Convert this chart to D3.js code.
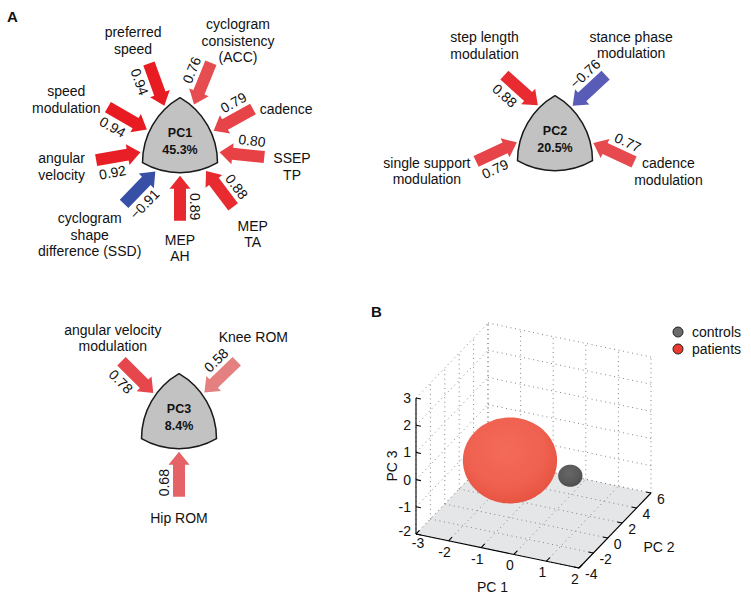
<!DOCTYPE html>
<html>
<head>
<meta charset="utf-8">
<script src="https://cdn.jsdelivr.net/npm/d3@7"></script>
<style>
  body { margin: 0; background: #fff; }
  text { font-family: "Liberation Sans", Arial, Helvetica, sans-serif; fill: #111; }
</style>
</head>
<body>
<svg id="fig" width="751" height="604"></svg>
<script>
// ---------- panel A : loadings of each component ----------
const pc1Labels = ["preferred\nspeed", "cyclogram\nconsistency\n(ACC)", "cadence", "SSEP\nTP", "MEP\nTA",
                   "MEP\nAH", "cyclogram\nshape\ndifference (SSD)", "angular\nvelocity", "speed\nmodulation"];
const pc1Loadings = [0.94, 0.76, 0.79, 0.80, 0.88, 0.89, -0.91, 0.92, 0.94];

const pc2Labels = ["step length\nmodulation", "stance phase\nmodulation", "cadence\nmodulation", "single support\nmodulation"];
const pc2Loadings = [0.88, -0.76, 0.77, 0.79];

const pc3Labels = ["angular velocity\nmodulation", "Knee ROM", "Hip ROM"];
const pc3Loadings = [0.78, 0.58, 0.68];

const componentNames = ["PC1", "PC2", "PC3"];
const explained = ["45.3%", "20.5%", "8.4%"];

// ---------- panel B : group ellipsoids in PC space ----------
const groups = ["controls", "patients"];
const groupCenters = [[0.85, 0, 0], [-1, 0, 0.1]];          // PC1, PC2, PC3
const groupRadii = [[0.34, 0.69, 0.35], [1.32, 2.67, 1.36]];  // semi-axes along PC1, PC2, PC3
const pc1Ticks = [-3, -2, -1, 0, 1, 2];
const pc2Ticks = [-4, -2, 0, 2, 4, 6];
const pc3Ticks = [-2, -1, 0, 1, 2, 3];

// ---------- layout (not data) ----------
// per arrow: [aim angle of tip, arrow direction, label angle, label distance] (compass degrees)
const glyphLayout = [
  { cx: 180, cy: 141, labels: pc1Labels, values: pc1Loadings, arrows: [
    [-24, -20, -25, 111], [21, 22, 30, 116], [73, 61, 73, 111], [106, 96, 103, 115], [139, 143, 142, 118],
    [180, 180, 180, 107], [219, 224, 224, 130], [254, 260, 258, 121], [289, 300, 290, 121]] },
  { cx: 555, cy: 139, labels: pc2Labels, values: pc2Loadings, arrows: [
    [-27, -48, -37, 117], [28, 47, 39, 121], [96, 115, 106, 118], [265, 245, 256, 132]] },
  { cx: 179, cy: 417, labels: pc3Labels, values: pc3Loadings, arrows: [
    [-47, -45, -40, 103], [46, 46, 43, 109], [180, 180, 180, 101, true]] }
];

const svg = d3.select("#fig");
const deg = Math.PI / 180;
const S = 75;               // Reuleaux side
const ARROW_LEN = 45, HEAD_LEN = 13, HEAD_HW = 10.5, SHAFT_HW = 6, GAP = 3;

const redScale = d3.scaleLinear().domain([0.55, 0.95]).range(["#e48888", "#e8171f"]).clamp(true);
const blueScale = d3.scaleLinear().domain([0.7, 0.95]).range(["#6562bd", "#2f4ba2"]).clamp(true);
const arrowColor = v => v < 0 ? blueScale(-v) : redScale(v);

function verts(cx, cy) {
  const h = S / Math.sqrt(3);
  return [[cx, cy - h], [cx + S / 2, cy + h / 2], [cx - S / 2, cy + h / 2]];
}
// distance from centroid to the Reuleaux outline (intersection of three disks)
function boundary(cx, cy, a) {
  const u = [Math.sin(a), -Math.cos(a)];
  return d3.min(verts(cx, cy), v => {
    const dx = cx - v[0], dy = cy - v[1];
    const b = u[0] * dx + u[1] * dy;
    const c = dx * dx + dy * dy - S * S;
    return -b + Math.sqrt(b * b - c);
  });
}

function multiline(g, x, y, str, lh) {
  const lines = str.split("\n");
  const t = g.append("text").attr("text-anchor", "middle").attr("font-size", 14);
  lines.forEach((l, i) => {
    t.append("tspan").attr("x", x)
      .attr("y", y - (lines.length - 1) * lh / 2 + i * lh + 5)
      .text(l);
  });
}

glyphLayout.forEach((gl, gi) => {
  const g = svg.append("g");
  const arrowPts = [[0, 0], [HEAD_LEN, HEAD_HW], [HEAD_LEN, SHAFT_HW], [ARROW_LEN, SHAFT_HW],
                    [ARROW_LEN, -SHAFT_HW], [HEAD_LEN, -SHAFT_HW], [HEAD_LEN, -HEAD_HW]];

  gl.arrows.forEach((ar, i) => {
    const aim = ar[0] * deg, dir = ar[1] * deg;
    const r = boundary(gl.cx, gl.cy, aim) + GAP;
    const tip = [gl.cx + r * Math.sin(aim), gl.cy - r * Math.cos(aim)];
    const u = [Math.sin(dir), -Math.cos(dir)];
    const p = [-Math.cos(dir), -Math.sin(dir)];
    const rot = Math.atan2(u[1], u[0]) / deg;
    const v = gl.values[i];

    g.append("path")
      .attr("d", d3.line()(arrowPts))
      .attr("transform", `translate(${tip[0]},${tip[1]}) rotate(${rot})`)
      .attr("fill", arrowColor(v));

    // loading value, written along the arrow
    const flip = ar[4] === true;
    const side = flip ? -1 : 1;
    const tx = tip[0] + u[0] * 31 + p[0] * side * 15;
    const ty = tip[1] + u[1] * 31 + p[1] * side * 15;
    let tr = rot;
    if (tr > 90) tr -= 180;
    if (tr <= -90) tr += 180;
    if (flip) tr -= 180;
    g.append("text")
      .attr("transform", `translate(${tx},${ty}) rotate(${tr})`)
      .attr("text-anchor", "middle").attr("dy", "0.35em")
      .attr("font-size", 14)
      .text(d3.format(".2f")(v));

    // variable name
    const la = ar[2] * deg;
    multiline(g, gl.cx + ar[3] * Math.sin(la), gl.cy - ar[3] * Math.cos(la), gl.labels[i], 16.8);
  });

  const vs = verts(gl.cx, gl.cy);
  g.append("path")
    .attr("d", `M${vs[0]} A${S},${S} 0 0 1 ${vs[1]} A${S},${S} 0 0 1 ${vs[2]} A${S},${S} 0 0 1 ${vs[0]}Z`)
    .attr("fill", "#c2c2c2").attr("stroke", "#1a1a1a").attr("stroke-width", 1.5)
    .attr("stroke-linejoin", "round");
  g.append("text").attr("x", gl.cx).attr("y", gl.cy - 4).attr("text-anchor", "middle")
    .attr("font-size", 12.5).attr("font-weight", "bold").text(componentNames[gi]);
  g.append("text").attr("x", gl.cx).attr("y", gl.cy + 13).attr("text-anchor", "middle")
    .attr("font-size", 12.5).attr("font-weight", "bold").text(explained[gi]);
});

svg.append("text").attr("x", 7).attr("y", 22).attr("font-size", 15).attr("font-weight", "bold").text("A");
svg.append("text").attr("x", 371).attr("y", 317).attr("font-size", 15).attr("font-weight", "bold").text("B");

// ---------- panel B : 3-D axes ----------
const O = [416, 534], EX = [163, 34], EY = [72, -75], EZ = -136;
const x3 = d3.scaleLinear().domain(d3.extent(pc1Ticks)).range([0, 1]);
const y3 = d3.scaleLinear().domain(d3.extent(pc2Ticks)).range([0, 1]);
const z3 = d3.scaleLinear().domain(d3.extent(pc3Ticks)).range([0, 1]);
const P = (x, y, z) => [O[0] + x3(x) * EX[0] + y3(y) * EY[0],
                        O[1] + x3(x) * EX[1] + y3(y) * EY[1] + z3(z) * EZ];
const [x0, x1] = x3.domain(), [y0, y1] = y3.domain(), [z0, z1] = z3.domain();

const b = svg.append("g");
const seg = (a, c) => b.append("line").attr("x1", a[0]).attr("y1", a[1]).attr("x2", c[0]).attr("y2", c[1]);
const dotted = s => s.attr("stroke", "#777").attr("stroke-width", 0.9).attr("stroke-dasharray", "1 3.6");

// walls grid
pc1Ticks.forEach(x => dotted(seg(P(x, y1, z0), P(x, y1, z1))));
pc3Ticks.forEach(z => dotted(seg(P(x0, y1, z), P(x1, y1, z))));
pc2Ticks.forEach(y => dotted(seg(P(x0, y, z0), P(x0, y, z1))));
pc3Ticks.forEach(z => dotted(seg(P(x0, y0, z), P(x0, y1, z))));

// floor
b.append("path")
  .attr("d", d3.line()([P(x0, y0, z0), P(x1, y0, z0), P(x1, y1, z0), P(x0, y1, z0)]) + "Z")
  .attr("fill", "#e5e6e8");
pc1Ticks.forEach(x => dotted(seg(P(x, y0, z0), P(x, y1, z0))));
pc2Ticks.forEach(y => dotted(seg(P(x0, y, z0), P(x1, y, z0))));

// ellipsoids
const defs = svg.append("defs");
const grad = (id, c0, c1, c2) => {
  const rg = defs.append("radialGradient").attr("id", id).attr("cx", "45%").attr("cy", "38%").attr("r", "65%");
  rg.append("stop").attr("offset", "0%").attr("stop-color", c0);
  rg.append("stop").attr("offset", "65%").attr("stop-color", c1);
  rg.append("stop").attr("offset", "100%").attr("stop-color", c2);
};
grad("gCtrl", "#666", "#595959", "#4a4a4a");
grad("gPat", "#f46b5a", "#ef604f", "#e6523f");
const sphereFill = ["url(#gCtrl)", "url(#gPat)"];
const legendFill = ["#6b6b6b", "#ee3a2e"];

const order = d3.range(groups.length).sort((i, j) => groupCenters[i][0] - groupCenters[j][0]);
order.forEach(i => {
  const [cx, cy, cz] = groupCenters[i], [ra, rb, rc] = groupRadii[i];
  const pts = [];
  for (let t = 0; t < 360; t += 5) for (let f = 5; f < 180; f += 5) {
    pts.push(P(cx + ra * Math.sin(f * deg) * Math.cos(t * deg),
               cy + rb * Math.sin(f * deg) * Math.sin(t * deg),
               cz + rc * Math.cos(f * deg)));
  }
  pts.push(P(cx, cy, cz + rc), P(cx, cy, cz - rc));
  b.append("path").attr("d", d3.line().curve(d3.curveCardinalClosed)(d3.polygonHull(pts)))
    .attr("fill", sphereFill[i]);
});

// axis lines
const axis = (a, c) => seg(a, c).attr("stroke", "#000").attr("stroke-width", 1.1);
axis(P(x0, y0, z0), P(x0, y0, z1));
axis(P(x0, y0, z0), P(x1, y0, z0));
axis(P(x1, y0, z0), P(x1, y1, z0));

const unit = v => { const n = Math.hypot(v[0], v[1]); return [v[0] / n, v[1] / n]; };
const ux = unit(EX), uy = unit(EY);
const TL = 5;
pc3Ticks.forEach(z => {
  const a = P(x0, y0, z);
  axis(a, [a[0] + ux[0] * TL, a[1] + ux[1] * TL]);
  b.append("text").attr("x", a[0] - 5).attr("y", a[1] - (z === z0 ? 3 : 0)).attr("dy", "0.35em")
    .attr("text-anchor", "end").attr("font-size", 14).text(z);
});
pc1Ticks.forEach(x => {
  const a = P(x, y0, z0);
  axis(a, [a[0] + uy[0] * TL, a[1] + uy[1] * TL]);
  b.append("text").attr("x", a[0] - 4 + (x === x0 ? 6 : 0)).attr("y", a[1] + 11 - (x === x0 ? 2 : 0)).attr("dy", "0.35em")
    .attr("text-anchor", "middle").attr("font-size", 14).text(x);
});
pc2Ticks.forEach(y => {
  const a = P(x1, y, z0);
  axis(a, [a[0] - ux[0] * TL, a[1] - ux[1] * TL]);
  b.append("text").attr("x", a[0] + 6).attr("y", a[1] + 6).attr("dy", "0.35em")
    .attr("text-anchor", "start").attr("font-size", 14).text(y);
});

const m1 = P((x0 + x1) / 2, y0, z0), m2 = P(x1, (y0 + y1) / 2, z0), m3 = P(x0, y0, (z0 + z1) / 2);
b.append("text").attr("x", m1[0] - 5).attr("y", m1[1] + 36).attr("dy", "0.35em")
  .attr("text-anchor", "middle").attr("font-size", 14).text("PC 1");
b.append("text").attr("x", m2[0] + 44).attr("y", m2[1] + 17).attr("dy", "0.35em")
  .attr("text-anchor", "middle").attr("font-size", 14).text("PC 2");
b.append("text").attr("transform", `translate(${m3[0] - 24},${m3[1]}) rotate(-90)`).attr("dy", "0.35em")
  .attr("text-anchor", "middle").attr("font-size", 14).text("PC 3");

// legend
const lg = svg.append("g").attr("transform", "translate(678,332)");
groups.forEach((name, i) => {
  lg.append("circle").attr("cx", 0).attr("cy", i * 17).attr("r", 5)
    .attr("fill", legendFill[i]).attr("stroke", "#222").attr("stroke-width", 1);
  lg.append("text").attr("x", 14).attr("y", i * 17).attr("dy", "0.35em").attr("font-size", 14).text(name);
});
</script>
</body>
</html>
